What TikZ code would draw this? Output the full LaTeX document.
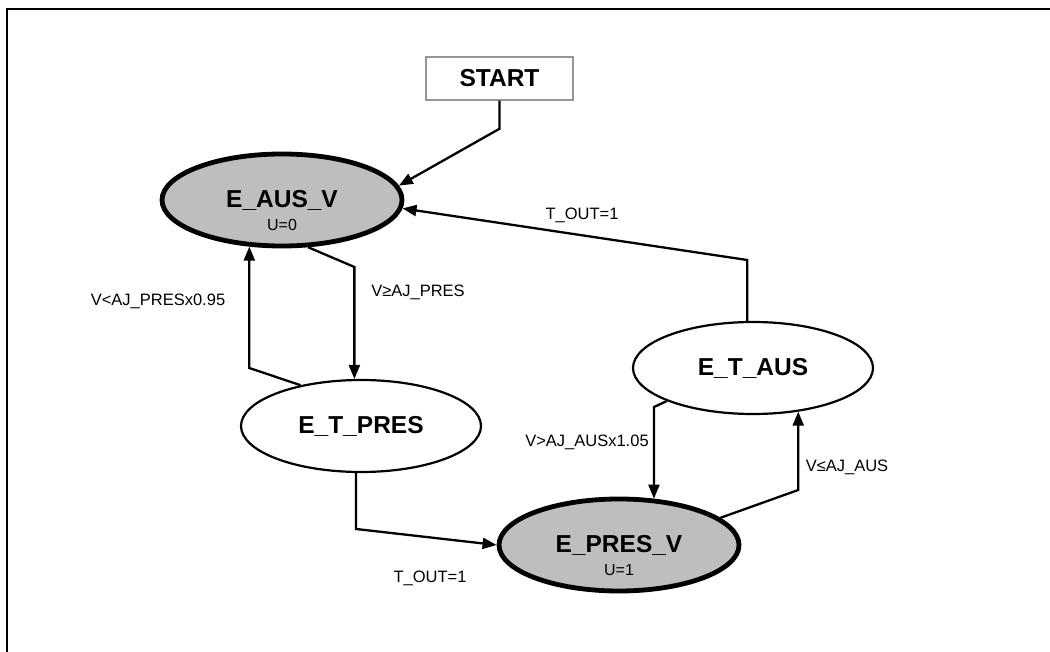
\documentclass[tikz,border=0pt]{standalone}
\usepackage{fontspec}
\setmainfont{Liberation Sans}
\usetikzlibrary{arrows.meta,shapes.geometric}
\definecolor{stategray}{RGB}{190,190,190}
\definecolor{boxgray}{RGB}{150,150,150}
\begin{document}
\begin{tikzpicture}[x=1pt,y=-1pt,
  state/.style={ellipse, draw=black, inner sep=0pt, minimum width=240pt, minimum height=92pt,
    font=\fontsize{24.5}{28}\selectfont\bfseries},
  held/.style={state, fill=stategray, line width=4.8pt},
  timer/.style={state, fill=white, line width=2.2pt},
  startbox/.style={draw=boxgray, line width=1.5pt, minimum width=147pt, minimum height=43pt,
    inner sep=0pt, font=\fontsize{24.5}{28}\selectfont\bfseries},
  edge/.style={line width=2.3pt, -{Triangle[length=14pt,width=11pt]}},
  cond/.style={font=\fontsize{16.5}{20}\selectfont, inner sep=0pt},
  outval/.style={font=\fontsize{16}{19}\selectfont, inner sep=0pt, yshift=-25pt}
]
\useasboundingbox (0,0) rectangle (1050,652);
% page frame
\draw[line width=1.8pt] (7,652) -- (7,9) -- (1050,9);

% states
\node[startbox] (start) at (499.5,78.5) {START};
\node[held, label={[outval]center:U=0}] (eausv) at (282,200) {E\_AUS\_V};
\node[timer] (etpres) at (361,426) {E\_T\_PRES};
\node[timer] (etaus) at (753,368) {E\_T\_AUS};
\node[held, label={[outval]center:U=1}] (epresv) at (619,545) {E\_PRES\_V};

% transitions
\draw[edge] (start.south) -- ++(0,28) -- (eausv.7);
\draw[edge] (etaus.97) -- (etaus.97 |- 0,260) -- (eausv.-4);
\draw[edge] (eausv.-61) -- (etpres.98 |- 0,267) -- (etpres.98);
\draw[edge] (etpres.146) -- (eausv.-125 |- 0,368) -- (eausv.-125);
\draw[edge] (etpres.-96) -- (etpres.-96 |- 0,529) -- (epresv.west);
\draw[edge] (etaus.-159) -- (epresv.53 |- 0,407) -- (epresv.53);
\draw[edge] (epresv.15) -- (etaus.-44 |- 0,490) -- (etaus.-44);

% transition conditions
\node[cond] (c1) at (582,215) {T\_OUT=1};
\node[cond] (c2) at (158,301) {V<AJ\_PRESx0.95};
\node[cond] (c3) at (418,292) {V≥AJ\_PRES};
\node[cond] (c4) at (587,442) {V>AJ\_AUSx1.05};
\node[cond] (c5) at (847,467) {V≤AJ\_AUS};
\node[cond] (c6) at (430,578) {T\_OUT=1};
\end{tikzpicture}
\end{document}
